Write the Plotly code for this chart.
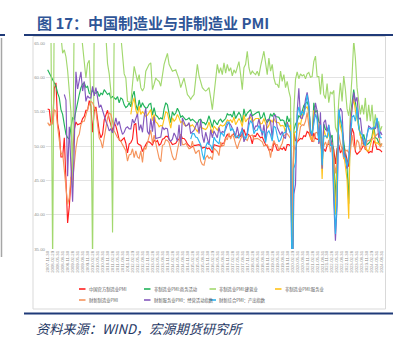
import pandas as pd
import plotly.graph_objects as go

# ---------------- data (monthly, 2007-11 .. 2024-08) ----------------
months = list((pd.date_range("2007-11-01", periods=202, freq="MS")
               + pd.offsets.MonthEnd(0)).strftime("%Y-%m-%d"))

official_mfg = [
    55.4, 55.3,
    53.0, 53.4, 58.4, 59.2, 53.3, 52.0, 48.4, 48.4, 51.2, 44.6, 38.8, 41.2,
    45.3, 49.0, 52.4, 53.5, 53.1, 53.2, 53.3, 54.0, 54.3, 55.2, 55.2, 56.6,
    55.8, 52.0, 55.1, 55.7, 53.9, 52.1, 51.2, 51.7, 53.8, 54.7, 55.2, 53.9,
    52.9, 52.2, 53.4, 52.9, 52.0, 50.9, 50.7, 50.9, 51.2, 50.4, 49.0, 50.3,
    50.5, 51.0, 53.1, 53.3, 50.4, 50.2, 50.1, 49.2, 49.8, 50.2, 50.6, 50.6,
    50.4, 50.1, 50.9, 50.6, 50.8, 50.1, 50.3, 51.0, 51.1, 51.4, 51.4, 51.0,
    50.5, 50.2, 50.3, 50.4, 50.8, 51.0, 51.7, 51.1, 51.1, 50.8, 50.3, 50.1,
    49.8, 49.9, 50.1, 50.1, 50.2, 50.2, 50.0, 49.7, 49.8, 49.8, 49.6, 49.7,
    49.4, 49.0, 50.2, 50.1, 50.1, 50.0, 49.9, 50.4, 50.4, 51.2, 51.7, 51.4,
    51.3, 51.6, 51.8, 51.2, 51.2, 51.7, 51.4, 51.7, 52.4, 51.6, 51.8, 51.6,
    51.3, 50.3, 51.5, 51.4, 51.9, 51.5, 51.2, 51.3, 50.8, 50.2, 50.0, 49.4,
    49.5, 49.2, 50.5, 50.1, 49.4, 49.4, 49.7, 49.5, 49.8, 49.3, 50.2, 50.2,
    50.0, 35.7, 52.0, 50.8, 50.6, 50.9, 51.1, 51.0, 51.5, 51.4, 52.1, 51.9,
    51.3, 50.6, 51.9, 51.1, 51.0, 50.9, 50.4, 50.1, 49.6, 49.2, 50.1, 50.3,
    50.1, 50.2, 49.5, 47.4, 49.6, 50.2, 49.0, 49.4, 50.1, 49.2, 48.0, 47.0,
    50.1, 52.6, 51.9, 49.2, 48.8, 49.0, 49.3, 49.7, 50.2, 49.5, 49.4, 49.0,
    49.2, 49.1, 50.8, 50.4, 49.5, 49.5, 49.4, 49.1,
]

nonmfg_business = [
    61.1, 60.6, 60.2, 59.7, 59.2, 58.7, 57.7, 57.0, 55.3, 54.6,
    53.1, 51.7, 51.2, 51.0, 52.7, 54.1, 53.9, 55.3, 56.3, 57.5,
    58.5, 59.0, 59.2, 58.5, 58.7, 57.7, 57.5, 58.2, 57.7, 57.7,
    57.9, 57.2, 57.7, 57.5, 58.2, 57.9, 57.5, 57.7, 57.0, 57.2,
    57.0, 56.8, 57.2, 56.3, 57.0, 56.8, 56.0, 55.6, 55.8, 56.3,
    55.7, 57.3, 58.0, 56.1, 55.2, 56.7, 55.6, 56.3, 55.8, 55.5, 55.6, 56.1,
    56.2, 54.5, 55.6, 54.5, 54.3, 53.9, 54.1, 53.9, 55.4, 56.3, 56.0, 54.6,
    53.4, 55.0, 54.5, 54.8, 55.5, 55.0, 54.2, 54.4, 54.0, 53.8, 53.9, 54.1,
    53.7, 53.9, 53.7, 53.4, 53.2, 53.8, 53.9, 53.4, 53.4, 53.1, 53.6, 54.4,
    53.5, 52.7, 53.8, 53.5, 53.1, 53.7, 53.9, 53.5, 53.7, 54.0, 54.7, 54.5,
    54.6, 54.2, 55.1, 54.0, 54.5, 54.9, 54.5, 53.4, 55.4, 54.3, 54.8, 55.0,
    55.3, 54.4, 54.6, 54.8, 54.9, 55.0, 54.0, 54.2, 54.9, 53.9, 53.4, 53.8,
    54.7, 54.3, 54.8, 54.3, 54.3, 54.2, 53.7, 53.8, 53.7, 52.8, 54.4, 53.5,
    54.1, 29.6, 52.3, 53.2, 53.6, 54.4, 54.2, 55.2, 55.9, 56.2, 56.4, 55.7,
    52.4, 51.4, 56.3, 54.9, 55.2, 53.5, 53.3, 47.5, 53.2, 52.4, 52.3, 52.7,
    51.1, 51.6, 48.4, 41.9, 47.8, 54.7, 53.8, 52.6, 50.6, 48.7, 46.7, 41.6,
    54.4, 56.3, 58.2, 56.4, 54.5, 53.2, 51.5, 51.0, 51.7, 50.6, 50.2, 50.4,
    50.7, 51.4, 53.0, 51.2, 51.1, 50.5, 50.2, 50.3,
]

nonmfg_construction = [
    67.0, 68.0, 66.0, 33.0, 72.0, 70.0, 69.0, 67.0, 66.0, 63.5,
    64.0, 63.0, 61.0, 58.0, 55.0, 44.0, 70.0, 71.0, 69.0, 68.0,
    67.0, 64.5, 61.5, 59.9, 62.0, 62.5, 57.0, 33.0, 68.0, 70.0,
    69.0, 68.0, 67.0, 68.0, 67.0, 66.0, 62.0, 60.5, 58.0, 37.4,
    67.0, 68.0, 67.0, 66.0, 66.0, 63.0, 60.5, 59.9, 56.5, 56.4,
    56.3, 59.0, 61.6, 60.5, 59.4, 60.4, 58.5, 58.0, 58.5, 60.9,
    61.5, 61.9, 62.1, 58.2, 59.0, 59.9, 59.6, 59.4, 58.7, 60.3,
    61.9, 62.7, 63.5, 61.9, 61.4, 60.9, 61.0, 61.1, 60.4, 59.7,
    58.5, 59.2, 59.9, 58.7, 57.5, 57.2, 56.8, 57.2, 57.5, 59.7,
    61.9, 60.2, 59.3, 58.5, 58.2, 58.0, 58.2, 58.5, 57.0, 55.3,
    57.5, 60.0, 61.9, 60.6, 61.4, 60.4, 62.1, 60.6, 61.9, 60.9,
    61.4, 60.2, 61.1, 60.6, 61.6, 62.3, 60.4, 58.2, 61.4, 61.9,
    63.8, 61.4, 60.4, 60.9, 60.6, 60.4, 60.9, 60.2, 61.6, 62.8,
    63.8, 62.1, 60.4, 62.8, 60.9, 61.9, 59.9, 59.0, 59.0, 58.5,
    60.9, 59.4, 60.4, 58.5, 59.4, 58.0, 57.0,
    26.6,
    55.1, 59.7, 60.8, 59.8, 60.5, 60.2, 60.4, 59.8, 60.5, 60.7,
    60.0, 60.1, 62.3, 63.1, 60.1, 60.1, 57.5, 60.5, 57.5, 56.9, 59.1, 56.3,
    57.9, 57.6, 58.1, 52.7, 52.0, 56.6, 59.2, 56.5, 60.2, 58.2, 55.4, 54.4,
    56.4, 60.2, 65.4, 62.8, 58.5, 56.5, 54.6, 56.0, 54.6, 57.0, 53.6, 56.0,
    53.6, 56.0, 52.6, 54.6, 52.6, 53.6, 52.2, 52.9,
]

nonmfg_services = [None] * 50 + [
    54.6, 56.2, 57.0, 55.3, 54.5, 55.8, 54.6, 55.0, 54.7, 54.3, 54.5, 55.0,
    55.3, 53.7, 54.6, 53.5, 53.3, 52.8, 53.0, 52.9, 54.2, 55.0, 54.8, 53.6,
    52.6, 54.1, 53.6, 53.9, 54.6, 54.1, 53.4, 53.6, 53.1, 52.9, 53.0, 53.2,
    52.9, 53.1, 52.8, 52.4, 52.1, 52.6, 52.8, 52.6, 52.5, 52.4, 52.7, 53.5,
    52.6, 51.9, 52.9, 52.6, 52.3, 52.8, 53.1, 52.9, 53.0, 53.3, 53.8, 53.6,
    53.8, 53.4, 54.2, 53.1, 53.5, 54.0, 53.6, 52.8, 54.5, 53.5, 53.9, 54.1,
    54.2, 53.5, 53.8, 54.0, 54.0, 54.0, 53.2, 53.3, 54.0, 53.1, 52.6, 53.0,
    53.8, 53.5, 54.0, 53.5, 53.5, 53.4, 52.9, 53.0, 52.9, 51.9, 53.5, 52.7,
    53.1, 30.1, 51.8, 52.1, 52.3, 53.4, 53.1, 54.3, 55.2, 55.5, 55.7, 54.8,
    51.1, 50.8, 55.2, 54.4, 54.3, 52.3, 52.5, 45.2, 52.4, 51.6, 51.1, 52.0,
    50.3, 50.5, 46.7, 40.0, 47.1, 54.3, 52.8, 51.9, 48.9, 47.0, 45.1, 39.4,
    54.0, 55.6, 56.9, 55.1, 53.8, 52.8, 51.5, 50.5, 50.1, 50.1, 49.3, 49.3,
    50.1, 51.0, 52.4, 50.3, 50.5, 50.2, 50.0, 50.2,
]

caixin_mfg = [
    53.4, 53.0, 53.4, 53.2, 55.3, 55.0, 52.8, 51.0, 48.8, 49.0,
    46.8, 43.9, 41.5, 42.5, 45.5, 45.0, 47.8, 49.7, 51.2, 51.7,
    53.1, 53.6, 53.6, 54.6, 55.4, 56.0, 56.5, 56.3, 55.6, 55.1,
    53.1, 51.2, 50.7, 49.7, 51.2, 52.6, 54.1, 54.8, 54.6, 53.6,
    52.2, 51.7, 51.2, 51.0, 50.7, 50.2, 49.7, 49.3, 47.8, 48.7,
    48.8, 49.6, 48.3, 49.3, 48.4, 48.2, 49.3, 47.6, 49.8, 49.5, 50.5, 51.5,
    52.3, 50.4, 51.6, 50.4, 49.2, 48.2, 47.7, 50.1, 50.2, 50.9, 50.8, 50.5,
    49.5, 48.5, 48.0, 48.1, 49.4, 50.7, 51.7, 50.2, 50.2, 50.4, 50.0, 49.6,
    49.7, 50.7, 49.6, 48.9, 49.2, 49.4, 47.8, 47.3, 47.2, 48.3, 48.6, 48.2,
    48.4, 48.0, 49.7, 49.4, 49.2, 48.6, 50.6, 50.0, 50.1, 51.2, 50.9, 51.9,
    51.0, 51.7, 51.2, 50.3, 49.6, 50.4, 51.1, 51.6, 51.0, 51.0, 50.8, 51.5,
    51.5, 51.6, 51.0, 51.1, 51.1, 51.0, 50.8, 50.6, 50.0, 50.1, 50.2, 49.7,
    48.3, 49.9, 50.8, 50.2, 50.2, 49.4, 49.9, 50.4, 51.4, 51.7, 51.8, 51.5,
    51.1, 40.3, 50.1, 49.4, 50.7, 51.2, 52.8, 53.1, 53.0, 53.6, 54.9, 53.0,
    51.5, 50.9, 50.6, 51.9, 52.0, 51.3, 50.3, 49.2, 50.0, 50.6, 49.9, 50.9,
    49.1, 50.4, 48.1, 46.0, 48.1, 51.7, 50.4, 49.5, 48.1, 49.2, 49.4, 49.0,
    49.2, 51.6, 50.0, 49.5, 50.9, 50.5, 49.2, 51.0, 50.6, 49.5, 50.7, 50.8,
    50.8, 50.9, 51.1, 51.4, 51.7, 51.8, 49.8, 50.4,
]

caixin_services = [None] * 10 + [
    57.5, 56.7, 45.6, 52.8, 47.0, 41.9, 50.0, 60.8, 58.3, 59.5,
    60.8, 58.0, 59.4, 56.5, 57.3, 57.0, 57.0, 58.7, 57.3, 58.5,
    57.0, 55.6, 56.0, 55.1, 54.5, 53.6, 53.0, 52.2, 52.5, 51.9,
    53.0, 54.1, 53.0, 53.6, 52.5, 51.7, 52.0, 52.6, 52.8, 52.5,
    52.5, 53.9, 53.3, 54.1, 54.7, 52.3, 53.1, 52.0, 54.3, 55.5, 52.1, 51.7,
    54.0, 52.1, 54.3, 51.1, 51.2, 51.3, 51.3, 52.8, 52.4, 52.6, 52.5, 50.9,
    50.7, 51.0, 51.9, 51.4, 50.7, 53.1, 50.0, 54.1, 53.5, 52.9, 53.0, 53.4,
    51.8, 52.0, 52.3, 52.9, 53.5, 51.8, 53.8, 51.5, 50.5, 52.0, 51.2, 50.2,
    52.4, 51.2, 52.2, 51.8, 51.2, 52.7, 51.7, 52.1, 52.0, 52.4, 53.1, 53.4,
    53.1, 52.6, 52.1, 51.5, 52.8, 51.6, 51.5, 52.7, 50.6, 51.2, 51.9, 53.9,
    54.7, 54.2, 52.3, 52.9, 52.9, 53.9, 52.8, 51.5, 53.1, 50.8, 53.8, 53.9,
    53.6, 51.1, 54.4, 54.5, 52.7, 52.0, 51.6, 52.1, 51.3, 51.1, 53.5, 52.5,
    51.8, 26.5, 43.0, 44.4, 55.0, 58.4, 54.1, 54.0, 54.8, 56.8, 57.8, 56.3,
    52.0, 51.5, 54.3, 56.3, 55.1, 50.3, 54.9, 46.7, 53.4, 53.8, 52.1, 53.1,
    51.4, 50.2, 42.0, 36.2, 41.4, 54.5, 55.5, 55.0, 49.3, 48.4, 46.7, 48.0,
    52.9, 55.0, 57.8, 56.4, 57.1, 53.9, 54.1, 51.8, 50.2, 50.4, 51.5, 52.9,
    52.7, 52.5, 52.7, 52.5, 54.0, 51.2, 52.1, 51.6,
]

caixin_composite = [None] * 86 + [
    51.0, 51.8, 51.8, 51.3, 51.2, 50.6, 50.2, 48.8, 48.0, 49.9, 50.5, 50.2,
    50.1, 49.4, 51.3, 50.8, 50.5, 50.3, 51.9, 51.8, 51.4, 52.9, 53.5, 53.5,
    52.2, 52.6, 52.1, 51.2, 51.5, 51.1, 51.9, 52.4, 51.4, 51.0, 51.6, 53.0,
    53.7, 53.3, 51.8, 52.3, 52.3, 53.0, 52.3, 52.0, 52.1, 50.5, 51.9, 52.2,
    51.6, 50.7, 52.9, 52.7, 51.5, 50.6, 50.9, 51.6, 51.9, 52.0, 53.2, 52.6,
    51.9, 27.5, 46.7, 47.6, 54.5, 55.7, 54.5, 55.1, 54.5, 55.7, 57.5, 55.8,
    52.2, 51.7, 53.1, 54.7, 53.8, 50.6, 53.1, 47.2, 51.4, 51.5, 51.2, 53.0,
    50.1, 50.1, 43.9, 37.2, 42.2, 55.3, 54.0, 53.0, 48.5, 48.3, 47.0, 48.3,
    51.1, 54.2, 54.5, 53.6, 55.6, 52.5, 51.9, 51.7, 50.9, 50.0, 51.6, 52.6,
    52.5, 52.5, 52.7, 52.8, 54.1, 52.8, 51.2, 51.2,
]

series_names = [
    "中国官方制造业PMI",
    "非制造业PMI:商务活动",
    "非制造业PMI:建筑业",
    "非制造业PMI:服务业",
    "财新制造业PMI",
    "财新服务业PMI：经营活动指数",
    "财新综合PMI：产出指数",
]
series_values = [official_mfg, nonmfg_business, nonmfg_construction,
                 nonmfg_services, caixin_mfg, caixin_services, caixin_composite]
series_colors = ["#FF1F1F", "#21B35A", "#A2D86E", "#FFC21A",
                 "#F5945C", "#8458BD", "#2DB4EE"]

y_ticks = [35, 40, 45, 50, 55, 60, 65]
title_text = "图 17：中国制造业与非制造业 PMI"
source_text = "资料来源：WIND，宏源期货研究所"

# ---------------- layout helpers (pixels -> paper) ----------------
W, H = 408, 339
L, R, T, B = 46, 24, 43, 90
PW, PH = W - L - R, H - T - B


def fx(px):
    return (px - L) / PW


def fy(py):
    return (H - B - py) / PH


fig = go.Figure()
for name, vals, color in zip(series_names, series_values, series_colors):
    fig.add_trace(go.Scatter(
        x=months, y=vals, mode="lines", name=name,
        line=dict(color=color, width=1.15),
        showlegend=False, connectgaps=False,
    ))

shapes = []
navy = "#1F3A78"
# title underline and bottom rule
shapes.append(dict(type="line", xref="paper", yref="paper",
                   x0=fx(24), x1=fx(393), y0=fy(35), y1=fy(35),
                   line=dict(color=navy, width=2)))
shapes.append(dict(type="line", xref="paper", yref="paper",
                   x0=fx(24), x1=fx(393), y0=fy(313.5), y1=fy(313.5),
                   line=dict(color=navy, width=2)))
# neighbouring page fragments on the far left
shapes.append(dict(type="line", xref="paper", yref="paper",
                   x0=fx(0), x1=fx(5), y0=fy(35), y1=fy(35),
                   line=dict(color=navy, width=2)))
shapes.append(dict(type="line", xref="paper", yref="paper",
                   x0=fx(1.5), x1=fx(1.5), y0=fy(38), y1=fy(257),
                   line=dict(color="#A6A6A6", width=1.5)))
# chart frame
shapes.append(dict(type="rect", xref="paper", yref="paper",
                   x0=fx(33), x1=fx(385.5), y0=fy(309), y1=fy(36.5),
                   line=dict(color="#D9D9D9", width=1), layer="below"))

annotations = [
    dict(text="<b>" + title_text + "</b>", xref="paper", yref="paper",
         x=fx(35), y=fy(22), xanchor="left", yanchor="middle", showarrow=False,
         font=dict(family="Noto Sans CJK SC", size=15, color="#2F5597")),
    dict(text="<i>" + source_text + "</i>", xref="paper", yref="paper",
         x=fx(34), y=fy(328), xanchor="left", yanchor="middle", showarrow=False,
         font=dict(family="Noto Sans CJK SC", size=13.2, color="#1F3864")),
]

# legend (two rows, four columns)
legend_cols = [79, 144, 209.5, 275]
legend_rows = [289, 300]
for k, (name, color) in enumerate(zip(series_names, series_colors)):
    x0 = legend_cols[k % 4]
    yy = legend_rows[k // 4]
    shapes.append(dict(type="line", xref="paper", yref="paper",
                       x0=fx(x0), x1=fx(x0 + 6.5), y0=fy(yy), y1=fy(yy),
                       line=dict(color=color, width=1.6)))
    annotations.append(dict(text=name, xref="paper", yref="paper",
                            x=fx(x0 + 7.5), y=fy(yy), xanchor="left",
                            yanchor="middle", showarrow=False,
                            font=dict(family="Noto Sans CJK SC", size=4.3,
                                      color="#595959")))

fig.update_layout(
    width=W, height=H,
    margin=dict(l=L, r=R, t=T, b=B, autoexpand=False),
    paper_bgcolor="white", plot_bgcolor="white",
    showlegend=False,
    shapes=shapes, annotations=annotations,
    xaxis=dict(type="category", range=[-1, 202.2],
               tickvals=months[::3], tickangle=-90,
               tickfont=dict(family="Liberation Sans", size=4.3, color="#8C8C8C"),
               showgrid=False, zeroline=False, showline=False, ticks="",
               automargin=False, fixedrange=True),
    yaxis=dict(range=[35, 65], tickvals=y_ticks, tickformat=".2f",
               tickfont=dict(family="Liberation Sans", size=4.3, color="#8C8C8C"),
               gridcolor="#E3E3E3", gridwidth=1, zeroline=False, showline=False,
               ticks="", automargin=False, fixedrange=True),
)

fig.write_html("out.html")
